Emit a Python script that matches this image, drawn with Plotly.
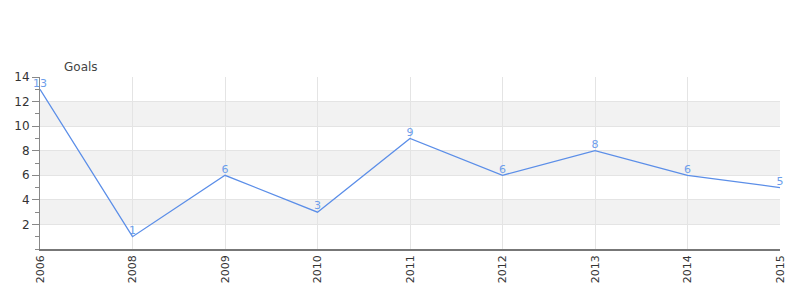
import plotly.graph_objects as go

years = ["2006", "2008", "2009", "2010", "2011", "2012", "2013", "2014", "2015"]
goals = [13, 1, 6, 3, 9, 6, 8, 6, 5]
y_ticks = [2, 4, 6, 8, 10, 12, 14]
bands = [(2, 4), (6, 8), (10, 12)]

fig = go.Figure()
fig.add_trace(go.Scatter(
    x=years, y=goals, mode="lines+text",
    text=[str(v) for v in goals], textposition="top center",
    textfont=dict(color="#6d9eeb", size=11, family="DejaVu Sans"),
    line=dict(color="#5b8ee8", width=1.3),
    cliponaxis=False, hoverinfo="skip",
))
for a, b in bands:
    fig.add_hrect(y0=a, y1=b, fillcolor="#f2f2f2", line_width=0, layer="below")

fig.update_layout(
    width=800, height=300,
    margin=dict(l=40, r=20, t=77, b=51),
    paper_bgcolor="white", plot_bgcolor="white",
    showlegend=False,
    font=dict(family="DejaVu Sans", size=11, color="#333"),
    annotations=[dict(text="Goals", x=62, y=67, xref="paper", yref="paper",
                      showarrow=False)],
)
fig.layout.annotations[0].update(xref="x domain", yref="y domain", x=0.03, y=1.0,
                                 xanchor="left", yanchor="bottom", yshift=1,
                                 font=dict(size=12, color="#444"))
fig.update_xaxes(
    type="category", range=[0, len(years) - 1],
    tickangle=-90, showgrid=True, gridcolor="#e4e4e4",
    showline=True, linecolor="#777", linewidth=1.5,
    ticks="", tickfont=dict(size=11, color="#333"),
)
fig.update_yaxes(
    range=[0, 14], tickvals=y_ticks, showgrid=True, gridcolor="#e4e4e4",
    zeroline=True, zerolinecolor="#cc0000", zerolinewidth=1,
    showline=True, linecolor="#888", linewidth=1,
    ticks="outside", ticklen=7, tickcolor="#888",
    minor=dict(ticks="outside", ticklen=4, dtick=1, tickcolor="#888", showgrid=False),
    tickfont=dict(size=12, color="#333"),
)
fig.write_html("out.html")
